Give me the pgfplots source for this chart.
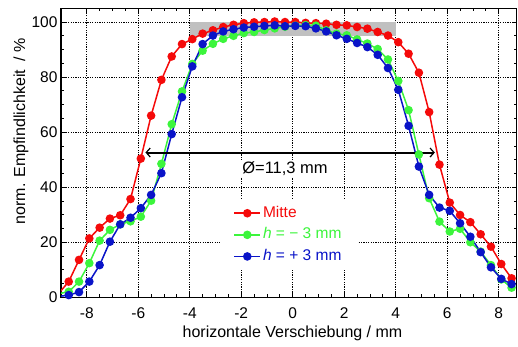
\documentclass[border=0pt]{standalone}
\usepackage{fontspec}
\setmainfont{Liberation Sans}
\usepackage{pgfplots}
\pgfplotsset{compat=1.18}
\usetikzlibrary{arrows.meta}
\definecolor{cred}{RGB}{245,10,10}
\definecolor{cgreen}{RGB}{60,245,60}
\definecolor{cblue}{RGB}{10,20,200}
\definecolor{cgray}{RGB}{192,192,192}
\begin{document}
\begin{tikzpicture}
\useasboundingbox (-61pt,-49.7pt) rectangle (457pt,297.3pt);
\begin{axis}[
  scale only axis,
  width=455.7pt, height=289pt,
  xmin=-9, xmax=8.7, ymin=0, ymax=105,
  xtick={-8,-6,...,8}, ytick={0,20,...,100},
  minor x tick num=3, minor y tick num=3,
  tick align=inside,
  major tick length=5pt, minor tick length=3pt,
  every tick/.style={black, line width=0.8pt},
  axis line style={line width=1.1pt},
  grid=major,
  major grid style={black, line width=0.8pt, dash pattern=on 1.2pt off 1.2pt},
  /pgf/number format/assume math mode=true,
  tick label style={font=\fontsize{15.5}{18}\selectfont},
  xticklabel style={anchor=base, yshift=-21pt},
  label style={font=\fontsize{16}{19}\selectfont},
  xlabel={horizontale Verschiebung / mm},
  ylabel={norm. Empfindlichkeit \ / \%},
  xlabel style={at={(axis description cs:0.508,0)}, anchor=base, yshift=-40.7pt},
  ylabel style={at={(axis description cs:-0.0878,0.575)}, anchor=center},
  legend style={at={(axis cs:-2.85,35.7)}, anchor=north west, draw=none, fill=white,
    font=\fontsize{15.5}{18}\selectfont, inner xsep=14pt, inner ysep=5pt, row sep=3.6pt,
    nodes={text height=11pt, text depth=3pt, inner sep=2pt},
    legend cell align=left},
  legend image code/.code={\draw[mark repeat=2, mark phase=2] plot coordinates {(0pt,0pt) (13pt,0pt) (26pt,0pt)};},
  every axis plot/.append style={line width=1.5pt, mark=*, mark size=3.5pt},
]
\addplot[fill=cgray, draw=none, mark=none, forget plot] coordinates {(-4,94.8) (4,94.8) (4,100) (-4,100)} -- cycle;

\addplot[cred] coordinates {
(-9.1,1.3) (-8.7,5.7) (-8.3,13.6) (-7.9,21.4) (-7.5,25.3) (-7.1,28.6) (-6.7,29.8) (-6.3,35.7)
(-5.9,50.4) (-5.5,66.0) (-5.1,79.0) (-4.7,87.5) (-4.3,92.0) (-3.9,93.8) (-3.5,95.8) (-3.1,97.0)
(-2.7,98.2) (-2.3,99.0) (-1.9,99.6) (-1.5,99.9) (-1.1,100.0) (-0.7,100.2) (-0.3,100.0) (0.1,100.0)
(0.5,99.7) (0.9,99.6) (1.3,99.4) (1.7,99.0) (2.1,98.8) (2.5,98.2) (2.9,97.6) (3.3,96.4)
(3.7,95.1) (4.1,92.7) (4.5,88.5) (4.9,81.6) (5.3,67.3) (5.7,48.2) (6.1,34.4) (6.5,29.9)
(6.9,27.3) (7.3,22.9) (7.7,18.4) (8.1,12.1) (8.5,6.9)};
\addlegendentry{\textcolor{cred}{Mitte}}

\addplot[cgreen] coordinates {
(-9.1,1.3) (-8.7,2.0) (-8.3,5.7) (-7.9,12.4) (-7.5,20.6) (-7.1,24.5) (-6.7,26.5) (-6.3,27.6)
(-5.9,29.3) (-5.5,35.1) (-5.1,48.5) (-4.7,62.9) (-4.3,74.8) (-3.9,84.8) (-3.5,89.6) (-3.1,92.1)
(-2.7,93.9) (-2.3,95.0) (-1.9,96.0) (-1.5,96.4) (-1.1,97.1) (-0.7,97.7) (-0.3,98.3) (0.1,98.7)
(0.5,98.9) (0.9,98.7) (1.3,97.0) (1.7,95.8) (2.1,95.2) (2.5,93.7) (2.9,92.2) (3.3,90.2)
(3.7,86.4) (4.1,78.6) (4.5,68.0) (4.9,51.9) (5.3,36.0) (5.7,27.5) (6.1,23.9) (6.5,24.9)
(6.9,20.0) (7.3,16.6) (7.7,11.7) (8.1,6.5) (8.5,3.5)};
\addlegendentry{\textcolor{cgreen}{\textit{h} = − 3 mm}}

\addplot[cblue] coordinates {
(-9.1,0.3) (-8.7,0.8) (-8.3,1.9) (-7.9,5.7) (-7.5,11.7) (-7.1,20.2) (-6.7,26.5) (-6.3,28.9)
(-5.9,32.4) (-5.5,37.2) (-5.1,45.1) (-4.7,59.3) (-4.3,72.7) (-3.9,83.9) (-3.5,92.0) (-3.1,95.1)
(-2.7,96.6) (-2.3,97.4) (-1.9,98.0) (-1.5,98.3) (-1.1,98.6) (-0.7,98.8) (-0.3,98.5) (0.1,98.6)
(0.5,98.5) (0.9,97.7) (1.3,96.6) (1.7,95.2) (2.1,93.9) (2.5,92.4) (2.9,90.9) (3.3,88.1)
(3.7,83.3) (4.1,75.4) (4.5,62.3) (4.9,47.5) (5.3,37.2) (5.7,32.6) (6.1,31.4) (6.5,26.9)
(6.9,22.0) (7.3,16.4) (7.7,10.9) (8.1,6.7) (8.5,4.8)};
\addlegendentry{\textcolor{cblue}{\textit{h} = + 3 mm}}

\draw[line width=2pt, {Straight Barb[length=4pt,width=9pt,line width=1.2pt]}-{Straight Barb[length=4pt,width=9pt,line width=1.2pt]}]
  (axis cs:-5.72,52.6) -- (axis cs:5.52,52.6);
\node[fill=white, inner sep=2pt, font=\fontsize{16.5}{19}\selectfont] at (axis cs:-0.3,46.8) {Ø=11,3 mm};
\end{axis}
\end{tikzpicture}
\end{document}
